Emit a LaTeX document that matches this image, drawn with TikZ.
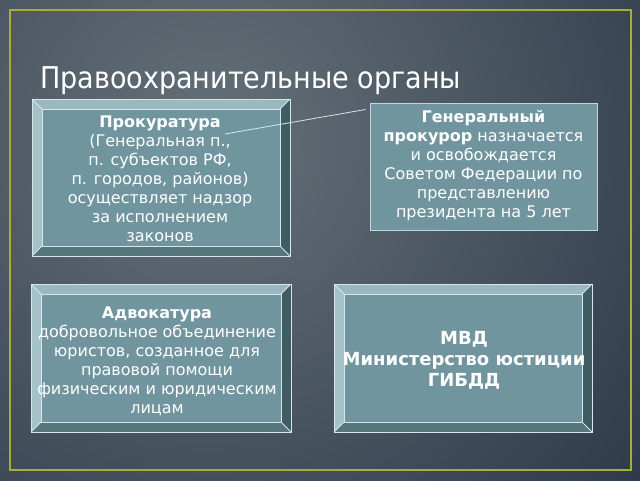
\documentclass[tikz,border=0pt]{standalone}
\usepackage{fontspec}
\setmainfont{DejaVu Sans}
\newfontfamily\titlefont[FakeStretch=0.9]{DejaVu Sans}
\usetikzlibrary{positioning}
\definecolor{bgglow}{RGB}{102,112,120}
\definecolor{bgdark}{RGB}{24,38,56}
\definecolor{faceclr}{RGB}{113,149,158}
\definecolor{toplit}{RGB}{155,184,193}
\definecolor{leftlit}{RGB}{165,194,201}
\definecolor{rightdk}{RGB}{62,92,98}
\definecolor{bottomdk}{RGB}{86,118,124}
\definecolor{edgeclr}{RGB}{214,230,234}
\definecolor{frameclr}{RGB}{168,172,58}
\tikzset{
  boxtext/.style={text=white, font=\fontsize{16}{19}\selectfont, align=center, inner sep=0pt},
  flatbox/.style={draw=edgeclr!80!faceclr, fill=faceclr, line width=1pt, minimum width=227pt, minimum height=127pt},
  edge/.style={draw=edgeclr, line width=0.8pt},
  callout/.style={draw=edgeclr, line width=0.8pt}
}

\begin{document}
\begin{tikzpicture}[x=1pt,y=-1pt]
		\useasboundingbox (0,0) rectangle (640,480);
		\fill [bgdark] (0,0) rectangle (640,480);
		\begin{scope}
		\clip (0,0) rectangle (640,480);
		\shade [inner color=bgglow, outer color=bgdark] (210,140) circle (760);
		\end{scope}
		\draw [frameclr, line width=1.6pt] (10,10) rectangle (631,470);
		
		\node at (40,88) [anchor=base west, text=white, font=\titlefont\fontsize{30}{36}\selectfont, inner sep=0pt] (title) {Правоохранительные органы};
		
		\foreach \xa/\ya/\xb/\yb in {32/99/290/256, 31/284/291/432, 334/284/592/432} {
			\fill [toplit] (\xa,\ya)--(\xb,\ya)--({\xb-10},{\ya+10})--({\xa+10},{\ya+10})--cycle;
			\fill [leftlit] (\xa,\ya)--({\xa+10},{\ya+10})--({\xa+10},{\yb-10})--(\xa,\yb)--cycle;
			\fill [rightdk] (\xb,\ya)--(\xb,\yb)--({\xb-10},{\yb-10})--({\xb-10},{\ya+10})--cycle;
			\fill [bottomdk] (\xa,\yb)--(\xb,\yb)--({\xb-10},{\yb-10})--({\xa+10},{\yb-10})--cycle;
			\fill [faceclr] ({\xa+10},{\ya+10}) rectangle ({\xb-10},{\yb-10});
			\draw [edge] (\xa,\ya) rectangle (\xb,\yb);
			\draw [edge] ({\xa+10},{\ya+10}) rectangle ({\xb-10},{\yb-10});
			\draw [edge] (\xa,\ya)--({\xa+10},{\ya+10});
			\draw [edge] (\xb,\ya)--({\xb-10},{\ya+10});
			\draw [edge] (\xa,\yb)--({\xa+10},{\yb-10});
			\draw [edge] (\xb,\yb)--({\xb-10},{\yb-10});
		}
		
		\node at (483.5,166.5) [flatbox] (genbox) {};
		\node at (483.5,166) [boxtext] (gen) {\textbf{Генеральный}\\\textbf{прокурор} назначается\\и освобождается\\Советом Федерации по\\представлению\\президента на 5 лет};
		
		\node at (160,178.5) [boxtext] (prok) {\textbf{Прокуратура}\\(Генеральная п.,\\п. субъектов РФ,\\п. городов, районов)\\осуществляет надзор\\за исполнением\\законов};
		\node at (157,361) [boxtext] (advok) {\textbf{Адвокатура}\\добровольное объединение\\юристов, созданное для\\правовой помощи\\физическим и юридическим\\лицам};
		\node at (464,360) [boxtext, font=\bfseries\fontsize{18}{21}\selectfont] (mvd) {МВД\\Министерство юстиции\\ГИБДД};
		
		\coordinate (genp) at (225,134);
		\draw [callout] (genp)--([xshift=-4pt,yshift=-7pt]genbox.north west);
		
		\end{tikzpicture}
\end{document}
